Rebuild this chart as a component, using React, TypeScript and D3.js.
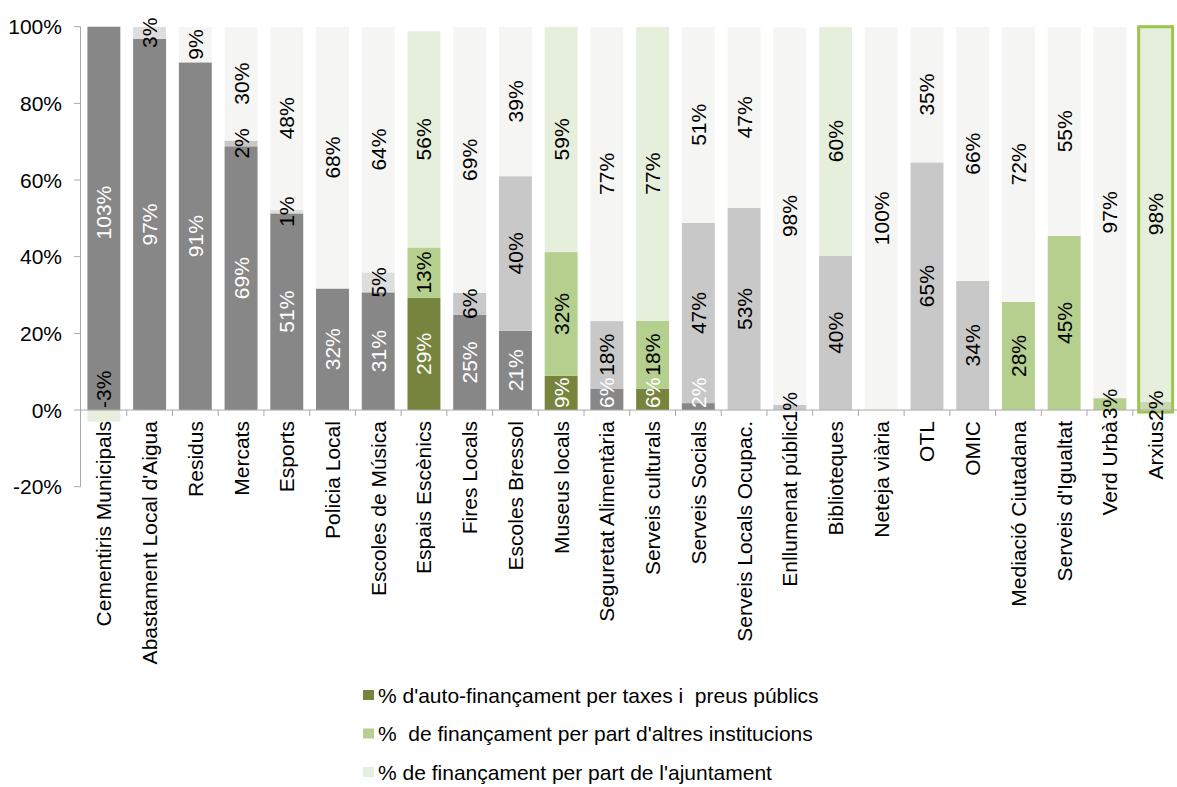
import React from "react";
import * as d3 from "d3";

const categories = [
  "Cementiris Municipals",
  "Abastament Local d'Aigua",
  "Residus",
  "Mercats",
  "Esports",
  "Policia Local",
  "Escoles de Música",
  "Espais Escènics",
  "Fires Locals",
  "Escoles Bressol",
  "Museus locals",
  "Seguretat Alimentària",
  "Serveis culturals",
  "Serveis Socials",
  "Serveis Locals Ocupac.",
  "Enllumenat públic",
  "Biblioteques",
  "Neteja viària",
  "OTL",
  "OMIC",
  "Mediació Ciutadana",
  "Serveis d'Igualtat",
  "Verd Urbà",
  "Arxius",
];

// % d'auto-finançament per taxes i preus públics
const autoFin = [103, 96.8, 90.7, 68.8, 51.3, 31.7, 30.7, 29.3, 24.8, 20.7, 8.9, 5.6, 5.6, 1.8, 0, 0, 0, 0, 0, 0, 0, 0, 0, 0];
// % de finançament per part d'altres institucions
const altres = [0, 3.2, 0, 1.5, 0.9, 0, 5.2, 13.1, 5.8, 40.3, 32.3, 17.6, 17.7, 47, 52.7, 1.4, 40.3, 0, 64.6, 33.7, 28.2, 45.4, 3.1, 2.2];
// % de finançament per part de l'ajuntament
const ajuntament = [-3, 0, 9.3, 29.7, 47.8, 68.3, 64.1, 56.4, 69.3, 39, 58.8, 76.8, 76.7, 51.2, 47.3, 98.4, 59.7, 100, 35.4, 66.3, 71.8, 54.6, 96.9, 97.8];

const yTicks = [-20, 0, 20, 40, 60, 80, 100];

const legendLabels = [
  "% d'auto-finançament per taxes i  preus públics",
  "%  de finançament per part d'altres institucions",
  "% de finançament per part de l'ajuntament",
];

// styling
const FONT = "'Liberation Sans', Arial, sans-serif";
const DARK_GRAY = "#878787";
const OLIVE = "#76843e";
const MID_GRAY = "#c8c8c8";
const LIGHT_GRAY2 = "#dedede";
const GREEN = "#b5cf8f";
const PALE = "#f5f5f3";
const PALE_GREEN = "#e5efdc";
const AXIS = "#a9a9a9";

const oliveS1 = new Set(["Espais Escènics", "Museus locals", "Serveis culturals"]);
const greenS2 = new Set(["Espais Escènics", "Museus locals", "Serveis culturals", "Mediació Ciutadana", "Serveis d'Igualtat", "Verd Urbà"]);
const lightS2 = new Set(["Abastament Local d'Aigua", "Esports", "Escoles de Música"]);
const greenS3 = new Set(["Cementiris Municipals", "Espais Escènics", "Museus locals", "Serveis culturals", "Biblioteques", "Arxius"]);
const highlighted = new Set(["Arxius"]);

function colorFor(series: number, cat: string): string {
  if (series === 0) return oliveS1.has(cat) ? OLIVE : DARK_GRAY;
  if (series === 1) {
    if (cat === "Arxius") return "#c9d8b4";
    if (greenS2.has(cat)) return GREEN;
    if (lightS2.has(cat)) return LIGHT_GRAY2;
    return MID_GRAY;
  }
  return greenS3.has(cat) ? PALE_GREEN : PALE;
}

const FS = 21;
function textLen(s: string) {
  let w = 0;
  for (const ch of s) {
    if (ch === "%") w += 0.889;
    else if (ch === "-") w += 0.333;
    else w += 0.556;
  }
  return w * FS;
}

export default function App() {
  const W = 1177;
  const H = 787;
  const x0 = 81;
  const x1 = 1178.5;
  const yTop = 26.7;
  const yBot = 486.7;

  const x = d3.scaleBand<string>().domain(categories).range([x0, x1]).paddingInner(0.28).paddingOuter(0.14);
  const y = d3.scaleLinear().domain([-20, 100]).range([yBot, yTop]);
  const fmt = (v: number) => (v < 0 ? "-" : "") + d3.format(".0f")(Math.abs(v)) + "%";

  const seriesArr = [autoFin, altres, ajuntament];
  const y0 = y(0);

  type Seg = { cat: string; s: number; v: number; a: number; b: number };
  const segs: Seg[] = [];
  categories.forEach((cat, i) => {
    let pos = 0;
    let neg = 0;
    seriesArr.forEach((arr, s) => {
      const v = arr[i];
      if (v === 0) return;
      if (v > 0) {
        segs.push({ cat, s, v, a: pos, b: pos + v });
        pos += v;
      } else {
        segs.push({ cat, s, v, a: neg + v, b: neg });
        neg += v;
      }
    });
  });

  const bw = x.bandwidth();
  const step = x.step();

  return (
    <svg width={W} height={H} style={{ position: "absolute", left: 0, top: 0, fontFamily: FONT }}>
      <defs>
        <clipPath id="plot">
          <rect x={x0} y={yTop} width={x1 - x0} height={yBot - yTop} />
        </clipPath>
      </defs>
      <g clipPath="url(#plot)">
        {segs.map((d, k) => (
          <rect
            key={k}
            x={x(d.cat)!}
            y={y(d.b)}
            width={bw}
            height={y(d.a) - y(d.b)}
            fill={colorFor(d.s, d.cat)}
          />
        ))}
      </g>
      {categories.map((cat, i) => {
        if (!highlighted.has(cat)) return null;
        const total = autoFin[i] + altres[i] + ajuntament[i];
        return (
          <rect
            key={"hl" + i}
            x={x(cat)! - 0.5}
            y={y(total)}
            width={bw + 1}
            height={y(0) - y(total) + 2}
            fill="none"
            stroke="#9bc54c"
            strokeWidth={3}
          />
        );
      })}
      {/* axes */}
      <line x1={80.5} x2={80.5} y1={yTop} y2={yBot} stroke={AXIS} strokeWidth={1} />
      {yTicks.map((t) => (
        <g key={t}>
          <line x1={74} x2={80.5} y1={y(t)} y2={y(t)} stroke={AXIS} />
          <text x={62} y={y(t)} textAnchor="end" dominantBaseline="central" fontSize={FS} fill="#000">
            {t}%
          </text>
        </g>
      ))}
      <line x1={80.5} x2={x1} y1={y0} y2={y0} stroke={AXIS} strokeWidth={1} />
      {categories.map((c, i) => (
        <line key={"xt" + i} x1={x0 + (i + 1) * step} x2={x0 + (i + 1) * step} y1={y0} y2={y0 + 6} stroke={AXIS} />
      ))}
      {/* data labels */}
      {segs.map((d, k) => {
        const cx = x(d.cat)! + bw / 2;
        let cy = (y(d.a) + y(d.b)) / 2;
        const label = fmt(d.v);
        const half = textLen(label) / 2;
        if ((d.s === 0 || d.v < 0) && cy + half > y0 - 2) cy = y0 - 2 - half;
        return (
          <text
            key={"l" + k}
            transform={`translate(${cx},${cy}) rotate(-90)`}
            textAnchor="middle"
            dominantBaseline="central"
            fontSize={FS}
            fill={d.s === 0 ? "#ffffff" : "#000000"}
          >
            {label}
          </text>
        );
      })}
      {/* category labels */}
      {categories.map((c) => (
        <text
          key={"c" + c}
          transform={`translate(${x(c)! + bw / 2},${y0 + 11}) rotate(-90)`}
          textAnchor="end"
          dominantBaseline="central"
          fontSize={FS}
          fill="#000"
        >
          {c}
        </text>
      ))}
      {/* legend */}
      {legendLabels.map((l, i) => {
        const ly = 695 + i * 38.5;
        const col = [OLIVE, GREEN, PALE_GREEN][i];
        return (
          <g key={"lg" + i}>
            <rect x={363} y={ly - 5} width={11} height={10} fill={col} />
            <text x={378} y={ly} dominantBaseline="central" fontSize={FS} fill="#000" style={{ whiteSpace: "pre" }}>
              {l}
            </text>
          </g>
        );
      })}
    </svg>
  );
}
